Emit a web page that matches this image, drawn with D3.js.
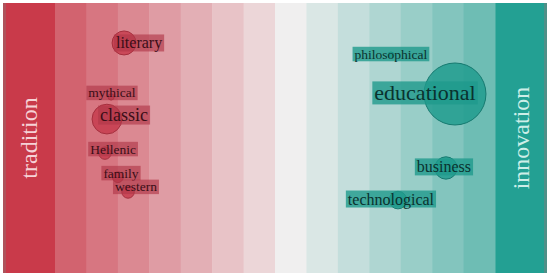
<!DOCTYPE html>
<html>
<head>
<meta charset="utf-8">
<script src="https://cdn.jsdelivr.net/npm/d3@7"></script>
<style>
  html, body { margin: 0; padding: 0; background: #ffffff; }
  svg { display: block; }
</style>
</head>
<body>
<svg id="chart" width="550" height="276"></svg>
<script>
// ---- data ----
const words        = ["literary", "mythical", "classic", "Hellenic", "family", "western",
                      "philosophical", "educational", "business", "technological"];
const side         = ["tradition", "tradition", "tradition", "tradition", "tradition", "tradition",
                      "innovation", "innovation", "innovation", "innovation"];
// score: -1 = tradition, +1 = innovation
const scores       = [-0.686, -0.745, -0.764, -0.773, -0.714, -0.668, 0.527, 0.818, 0.777, 0.559];
// vertical rank position
const ranks        = [1.48, 3.48, 4.30, 5.56, 6.45, 7.00, 1.93, 3.37, 6.11, 7.30];
// frequency (circle area)
const counts       = [15, 1, 23, 4, 3, 4, 1, 100, 13, 8];
// label anchor (data units)
const labelScores  = [-0.618, -0.741, -0.686, -0.736, -0.700, -0.632, 0.527, 0.682, 0.768, 0.527];
const labelRanks   = [1.48, 3.33, 4.15, 5.41, 6.30, 6.81, 1.89, 3.33, 6.07, 7.26];
const fontSizes    = [16, 13.5, 18, 13.5, 13.5, 13.5, 13.5, 22, 16, 16];
const poles        = ["tradition", "innovation"];
const bandSteps    = d3.range(14);

// ---- layout ----
(function () {
const svg = d3.select("#chart");
const L = 3, R = 547, T = 3, B = 273, edgeW = 52;

const x = d3.scaleLinear().domain([-1, 1]).range([L + edgeW, R - edgeW]);
const y = d3.scaleLinear().domain([0, 10]).range([T, B]);
const r = d3.scaleSqrt().domain([0, 100]).range([0, 31]);
const band = d3.scaleBand().domain(bandSteps).range([L + edgeW, R - edgeW]);
const colour = d3.scaleLinear().domain([-1, 0, 1])
  .range(["#c93a4a", "#f2f0f0", "#23a093"]);

// edge bands
svg.append("rect").attr("x", L).attr("y", T).attr("width", edgeW).attr("height", B - T)
  .attr("fill", colour(-1));
svg.append("rect").attr("x", R - edgeW).attr("y", T).attr("width", edgeW).attr("height", B - T)
  .attr("fill", colour(1));
svg.append("rect").attr("x", L).attr("y", T).attr("width", 3).attr("height", B - T)
  .attr("fill", "#b0525b");
svg.append("rect").attr("x", R - 3).attr("y", T).attr("width", 3).attr("height", B - T)
  .attr("fill", "#4f8f88");

// gradient bands
svg.append("g").selectAll("rect").data(bandSteps).join("rect")
  .attr("x", d => band(d))
  .attr("y", T)
  .attr("width", band.bandwidth() + 0.5)
  .attr("height", B - T)
  .attr("fill", d => colour((d - 7) * 0.105 + (d < 7 ? -0.04 : 0.01)));

// pole labels
svg.append("g").selectAll("text").data(poles).join("text")
  .attr("transform", (d, i) => `translate(${i === 0 ? L + edgeW / 2 : R - edgeW / 2},${(T + B) / 2}) rotate(-90)`)
  .attr("text-anchor", "middle")
  .attr("dominant-baseline", "central")
  .attr("font-family", "'Liberation Serif', 'Times New Roman', serif")
  .attr("font-size", 24)
  .attr("fill", (d, i) => i === 0 ? "#f6d2d6" : "#cdeee8")
  .text(d => d);

const items = words.map((w, i) => ({
  word: w, side: side[i], score: scores[i], rank: ranks[i], count: counts[i],
  lx: labelScores[i], ly: labelRanks[i], fs: fontSizes[i]
}));

// circles
svg.append("g").selectAll("circle").data(items).join("circle")
  .attr("cx", d => x(d.score))
  .attr("cy", d => y(d.rank))
  .attr("r", d => r(d.count))
  .attr("fill", d => d.side === "tradition" ? "#c63a4b" : "#1c9a8c")
  .attr("fill-opacity", 0.8)
  .attr("stroke", d => d.side === "tradition" ? "#a52f3e" : "#167a70")
  .attr("stroke-width", 1);

// labels with background boxes
const lg = svg.append("g").selectAll("g").data(items).join("g")
  .attr("transform", d => `translate(${x(d.lx)},${y(d.ly)})`);

lg.append("rect")
  .attr("fill", d => d.side === "tradition" ? "#b03848" : "#1f9a8c")
  .attr("fill-opacity", d => d.side === "tradition" ? 0.65 : 0.8);

lg.append("text")
  .attr("text-anchor", "middle")
  .attr("dominant-baseline", "central")
  .attr("font-family", "'Liberation Serif', 'Times New Roman', serif")
  .attr("font-size", d => d.fs)
  .attr("fill", d => d.side === "tradition" ? "#3a0e17" : "#0a322e")
  .text(d => d.word);

lg.each(function(d) {
  const t = d3.select(this).select("text").node();
  const w = t.getComputedTextLength();
  const h = d.fs * 1.0;
  d3.select(this).select("rect")
    .attr("x", -w / 2 - 2).attr("y", -h / 2 - 0.5)
    .attr("width", w + 4).attr("height", h + 1);
});
})();
</script>
</body>
</html>
